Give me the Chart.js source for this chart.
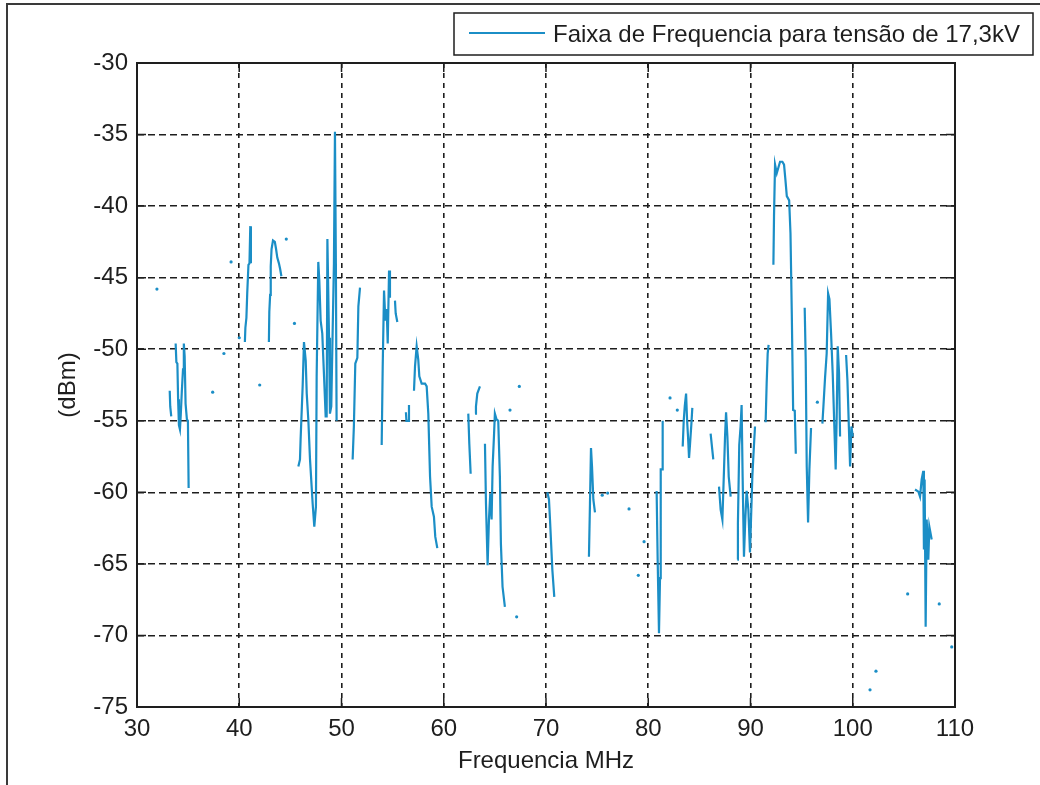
<!DOCTYPE html>
<html>
<head>
<meta charset="utf-8">
<title>Faixa de Frequencia</title>
<script src="https://cdn.jsdelivr.net/npm/chart.js@4.4.0/dist/chart.umd.min.js"></script>
<style>
  html, body { margin: 0; padding: 0; background: #fff; }
  #wrap { width: 1040px; height: 785px; }
</style>
</head>
<body>
<div id="wrap"><canvas id="myChart" width="1040" height="785"></canvas></div>
<script>
var seriesLabel = 'Faixa de Frequencia para tensão de 17,3kV';
var xTicks = [30, 40, 50, 60, 70, 80, 90, 100, 110];
var yTicks = [-75, -70, -65, -60, -55, -50, -45, -40, -35, -30];

// measured sweep, null = no reading (breaks the trace)
var freqMHz = [
    31.95, null,
    33.2, 33.25, 33.35, null,
    33.78, 33.85, 33.95, 34.02, 34.1, 34.2, 34.28, 34.38, 34.5, 34.58, 34.66, 34.75, 34.88, 34.98, 35.05, null,
    37.4, null,
    38.5, null,
    39.2, null,
    40.0, null,
    40.55, 40.6, 40.7, 40.78, 40.9, 41.0, 41.08, 41.14, null,
    42.0, null,
    42.9, 42.94, 43.02, 43.08, 43.16, 43.3, 43.48, 43.6, 43.72, 43.88, 44.0, 44.12, null,
    44.6, null,
    45.4, null,
    45.78, 45.94, 46.0, 46.2, 46.33, 46.5, 46.6, 46.76, 46.92, 47.18, 47.34, 47.5, 47.57, 47.73, 47.83, 47.96, 48.12, 48.3, 48.45,
    48.55, 48.62, 48.78, 48.87, 49.0, 49.13, 49.26, 49.36, 49.45, 49.52, null,
    51.09, 51.21, 51.35, 51.55, 51.65, 51.81, null,
    53.93, 54.03, 54.16, 54.29, 54.42, 54.52, 54.65, 54.74, null,
    55.23, 55.3, 55.46, null,
    56.3, 56.35, 56.55, 56.6, null,
    57.09, 57.19, 57.35, 57.51, 57.61, 57.84, 58.17, 58.33, 58.49, 58.66, 58.82, 59.04, 59.17, 59.37, null,
    62.4, 62.5, 62.63, null,
    63.06, 63.15, 63.28, 63.54, null,
    64.03, 64.13, 64.29, 64.42, 64.55, 64.68, 64.78, 64.91, 65.0, 65.16, 65.33, 65.49, 65.59, 65.75, 65.98, null,
    66.48, null,
    67.13, null,
    67.39, null,
    70.13, 70.29, 70.39, 70.62, 70.81, null,
    74.2, 74.3, 74.4, 74.5, 74.63, 74.79, null,
    75.5, null,
    76.03, null,
    78.12, null,
    79.03, null,
    79.59, null,
    80.82, 80.92, 81.05, 81.15, 81.22, 81.35, 81.41, null,
    82.13, null,
    82.84, null,
    83.37, 83.47, 83.57, 83.7, 83.8, 83.89, 83.99, 84.09, 84.22, 84.31, null,
    86.1, 86.23, 86.36, null,
    86.92, 87.08, 87.25, 87.41, 87.51, 87.61, 87.74, 87.87, 88.06, null,
    88.71, 88.77, 88.9, 89.03, 89.13, 89.23, 89.36, 89.49, 89.62, 89.79, 89.95, 90.05, 90.18, 90.28, 90.44, null,
    91.48, 91.58, 91.68, 91.77, null,
    92.24, 92.3, 92.4, 92.57, 92.73, 92.89, 93.12, 93.28, 93.42, 93.55, 93.78, 93.91, 94.04, 94.17, 94.33, 94.43, null,
    95.3, 95.4, 95.5, 95.63, 95.76, 95.92, null,
    96.54, null,
    97.03, 97.13, 97.29, 97.45, 97.59, 97.72, 97.88, 98.04, 98.2, 98.33, 98.43, 98.53, 98.66, 98.76, null,
    99.35, 99.48, 99.61, 99.74, 99.87, 100.0, null,
    101.69, null,
    102.27, null,
    105.37, null,
    106.09, 106.42, 106.58, 106.74, 106.9, 106.96, 107.03, 107.13, 107.23, 107.39, 107.49, 107.72, null,
    108.46, null,
    109.68
];

var levelDbm = [
    -45.8, null,
    -52.9, -54.0, -54.7, null,
    -49.6, -50.9, -51.0, -53.5, -55.3, -55.6, -54.6, -53.0, -51.4, -49.6, -50.5, -53.8, -54.9, -55.0, -59.7, null,
    -53.0, null,
    -50.3, null,
    -43.9, null,
    -49.2, null,
    -49.5, -48.5, -47.8, -46.1, -44.1, -44.0, -41.4, -44.0, null,
    -52.5, null,
    -49.5, -47.4, -46.2, -44.2, -43.0, -42.4, -42.5, -43.0, -43.6, -44.0, -44.4, -44.9, null,
    -42.3, null,
    -48.2, null,
    -58.2, -57.7, -56.3, -52.6, -49.5, -50.8, -53.1, -55.0, -57.7, -60.8, -62.4, -61.0, -51.9, -43.9, -45.2, -48.0, -48.9, -52.0, -54.7,
    -54.7, -42.3, -49.2, -54.5, -54.0, -48.9, -44.0, -34.8, -44.0, -55.0, null,
    -57.7, -55.4, -51.0, -50.6, -47.0, -45.7, null,
    -56.7, -51.2, -45.9, -48.0, -47.2, -49.6, -44.5, -46.4, null,
    -46.6, -47.5, -48.1, null,
    -54.4, -55.0, -55.0, -53.9, null,
    -52.9, -51.2, -49.8, -50.75, -51.9, -52.4, -52.4, -52.6, -54.5, -58.9, -61.0, -61.7, -63.1, -63.9, null,
    -54.5, -56.6, -58.7, null,
    -54.5, -54.0, -53.1, -52.6, null,
    -56.6, -60.8, -65.1, -61.9, -60.1, -61.9, -58.2, -56.1, -54.5, -54.9, -55.0, -58.9, -63.6, -66.6, -68.0, null,
    -54.25, null,
    -68.7, null,
    -52.6, null,
    -60.0, -60.5, -61.9, -65.4, -67.3, null,
    -64.5, -60.8, -56.9, -58.2, -60.5, -61.4, null,
    -60.2, null,
    -60.05, null,
    -61.16, null,
    -65.8, null,
    -63.45, null,
    -59.9, -64.7, -69.85, -66.0, -58.4, -58.4, -55.0, null,
    -53.4, null,
    -54.25, null,
    -56.8, -55.0, -54.0, -53.1, -55.0, -56.1, -57.6, -56.6, -55.2, -54.1, null,
    -55.9, -56.8, -57.7, null,
    -59.6, -61.2, -61.9, -58.4, -56.1, -54.4, -56.1, -58.9, -60.3, null,
    -64.7, -62.2, -56.7, -55.4, -53.9, -58.9, -64.5, -61.9, -59.9, -61.2, -64.2, -61.9, -58.9, -57.5, -55.4, null,
    -55.1, -52.4, -50.3, -49.7, null,
    -44.1, -40.7, -37.1, -37.7, -37.3, -36.9, -36.9, -37.1, -38.2, -39.3, -39.6, -41.9, -47.6, -54.25, -54.3, -57.3, null,
    -47.1, -50.75, -58.2, -62.1, -58.4, -55.5, null,
    -53.7, null,
    -55.2, -54.0, -52.0, -50.3, -46.1, -46.5, -48.9, -51.7, -55.4, -58.4, -54.7, -49.8, -51.7, -56.1, null,
    -50.4, -52.2, -55.2, -58.2, -55.4, -56.1, null,
    -73.8, null,
    -72.5, null,
    -67.1, null,
    -59.8, -59.95, -60.3, -59.1, -58.5, -64.0, -59.1, -69.4, -61.9, -64.7, -62.4, -63.3, null,
    -67.8, null,
    -70.8
];

var lineColor = '#1b8ec6';
var inkColor = '#1e1e1e';
var fontFamily = "'Liberation Sans', Arial, Helvetica, sans-serif";

var points = freqMHz.map(function(f, i){
    return { x: f, y: levelDbm[i] };
});

// single readings with no neighbours are drawn as a dot
function lonePointRadius(ctx) {
    var i = ctx.dataIndex;
    if (levelDbm[i] === null) return 0;
    var prev = levelDbm[i - 1], next = levelDbm[i + 1];
    return (prev == null && next == null) ? 1.6 : 0;
}

// outer edge of the figure (left and top)
var figureEdge = {
    id: 'figureEdge',
    beforeDraw: function(chart){
        var c = chart.ctx;
        c.save();
        c.fillStyle = '#fff';
        c.fillRect(0, 0, chart.width, chart.height);
        c.strokeStyle = '#3a3a3a';
        c.lineWidth = 2;
        c.beginPath();
        c.moveTo(7, chart.height);
        c.lineTo(7, 4);
        c.lineTo(chart.width, 4);
        c.stroke();
        c.restore();
    }
};

// closed box round the axes with short inward tick marks
var axesBox = {
    id: 'axesBox',
    afterDraw: function(chart){
        var a = chart.chartArea, c = chart.ctx;
        var xs = chart.scales.x, ys = chart.scales.y;
        var tl = 9;
        c.save();
        c.strokeStyle = inkColor;
        c.lineWidth = 1.5;
        c.beginPath();
        xTicks.forEach(function(v){
            var px = xs.getPixelForValue(v);
            c.moveTo(px, a.bottom); c.lineTo(px, a.bottom - tl);
            c.moveTo(px, a.top); c.lineTo(px, a.top + tl);
        });
        yTicks.forEach(function(v){
            var py = ys.getPixelForValue(v);
            c.moveTo(a.left, py); c.lineTo(a.left + tl, py);
            c.moveTo(a.right, py); c.lineTo(a.right - tl, py);
        });
        c.stroke();
        c.lineWidth = 2;
        c.strokeRect(a.left, a.top, a.right - a.left, a.bottom - a.top);
        c.restore();
    }
};

// legend box in the top right corner
var legendBox = {
    id: 'legendBox',
    afterDraw: function(chart){
        var c = chart.ctx;
        var right = chart.width - 7, left = 454, top = 13, bottom = 55;
        c.save();
        c.fillStyle = '#fff';
        c.fillRect(left, top, right - left, bottom - top);
        c.strokeStyle = inkColor;
        c.lineWidth = 1.5;
        c.strokeRect(left, top, right - left, bottom - top);
        c.strokeStyle = lineColor;
        c.lineWidth = 2.2;
        c.beginPath();
        c.moveTo(469, 33); c.lineTo(545, 33);
        c.stroke();
        c.fillStyle = inkColor;
        c.font = '24px ' + fontFamily;
        c.textBaseline = 'alphabetic';
        c.fillText(chart.data.datasets[0].label, 553, 42);
        c.restore();
    }
};

var ctx = document.getElementById('myChart').getContext('2d');
var myChart = new Chart(ctx, {
    type: 'line',
    data: {
        datasets: [{
            label: seriesLabel,
            data: points,
            borderColor: lineColor,
            backgroundColor: lineColor,
            borderWidth: 2.2,
            tension: 0,
            spanGaps: false,
            pointRadius: lonePointRadius,
            pointBorderWidth: 0,
            pointHoverRadius: 0
        }]
    },
    options: {
        responsive: false,
        animation: false,
        events: [],
        layout: {
            padding: { left: 50, right: 85, top: 63, bottom: 5 }
        },
        plugins: {
            legend: { display: false },
            tooltip: { enabled: false }
        },
        scales: {
            x: {
                type: 'linear',
                min: 30,
                max: 110,
                afterBuildTicks: function(axis){
                    axis.ticks = xTicks.map(function(v){ return { value: v }; });
                },
                afterFit: function(axis){ axis.height = 73; },
                grid: { color: inkColor, lineWidth: 1.6, drawTicks: false },
                border: { display: false, dash: [5, 5] },
                ticks: {
                    color: inkColor,
                    padding: 8,
                    maxRotation: 0,
                    font: { family: fontFamily, size: 24 }
                },
                title: {
                    display: true,
                    text: 'Frequencia MHz',
                    color: inkColor,
                    padding: { top: 0, bottom: 4 },
                    font: { family: fontFamily, size: 24 }
                }
            },
            y: {
                type: 'linear',
                min: -75,
                max: -30,
                afterBuildTicks: function(axis){
                    axis.ticks = yTicks.map(function(v){ return { value: v }; });
                },
                afterFit: function(axis){ axis.width = 87; },
                grid: { color: inkColor, lineWidth: 1.6, drawTicks: false },
                border: { display: false, dash: [7, 4] },
                ticks: {
                    color: inkColor,
                    padding: 9,
                    font: { family: fontFamily, size: 24 }
                },
                title: {
                    display: true,
                    text: '(dBm)',
                    color: inkColor,
                    padding: { top: 4, bottom: 0 },
                    font: { family: fontFamily, size: 24 }
                }
            }
        }
    },
    plugins: [figureEdge, axesBox, legendBox]
});
</script>
</body>
</html>
